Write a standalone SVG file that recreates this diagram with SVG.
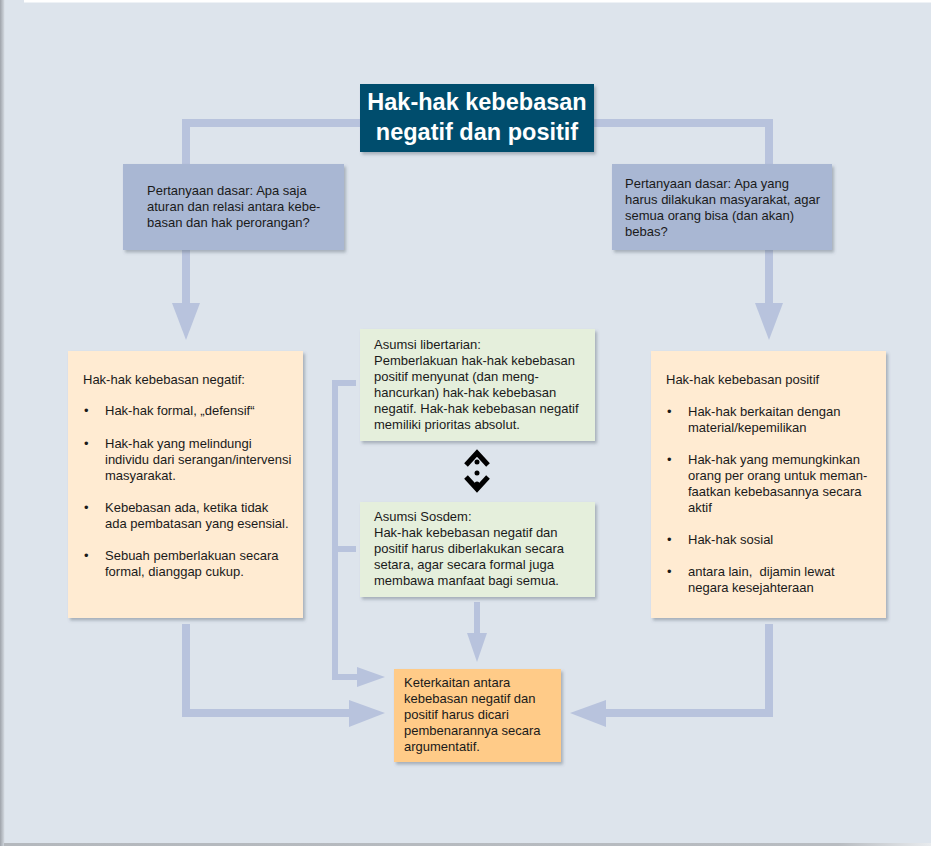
<svg xmlns="http://www.w3.org/2000/svg" width="931" height="846" viewBox="0 0 931 846">
<defs>
<filter id="sh" x="-5%" y="-5%" width="115%" height="120%">
<feDropShadow dx="2" dy="2.5" stdDeviation="1.5" flood-color="#556070" flood-opacity="0.4"/>
</filter>
<linearGradient id="lg" x1="0" x2="1" y1="0" y2="0">
<stop offset="0" stop-color="#9ea3aa"/>
<stop offset="1" stop-color="#d5dbe2"/>
</linearGradient>
<linearGradient id="bg" x1="0" x2="1" y1="0" y2="0">
<stop offset="0" stop-color="#b4b8bd"/>
<stop offset="0.9" stop-color="#b8bcc1"/>
<stop offset="1" stop-color="#e8ebee"/>
</linearGradient>
</defs>
<style>
.t{font-family:"Liberation Sans",Arial,sans-serif;font-size:13px;fill:#1a1a1a}
.ttl{font-family:"Liberation Sans",Arial,sans-serif;font-size:23.5px;font-weight:bold;fill:#ffffff}
.ln{fill:none;stroke:#b8c3dd;stroke-width:8}
.lt{fill:none;stroke:#b8c3dd;stroke-width:6}
.ah{fill:#b8c3dd}
.blue{fill:#a9b7d3}
.cream{fill:#ffebd2}
.green{fill:#e5efdc}
.orange{fill:#ffcb88}
</style>
<rect x="0" y="0" width="931" height="846" fill="#dde4ec"/>
<rect x="24" y="0" width="907" height="2.5" fill="#ffffff"/>
<rect x="0" y="0" width="4.5" height="846" fill="url(#lg)"/>
<rect x="4" y="843" width="927" height="3" fill="url(#bg)"/>

<g id="connectors">
<polyline class="ln" points="186,304 186,123 769,123 769,304"/>
<polygon class="ah" points="172,303 200,303 186,340"/>
<polygon class="ah" points="755,303 783,303 769,340"/>
<polyline class="ln" points="186,624 186,713 352,713"/>
<polygon class="ah" points="349,700 349,727 385,713"/>
<polyline class="ln" points="769,624 769,713 603,713"/>
<polygon class="ah" points="606,700 606,727 570,713"/>
<polyline class="lt" points="356,383 335,383 335,677 360,677"/>
<line class="lt" x1="335" y1="549" x2="356" y2="549"/>
<polygon class="ah" points="357,667 357,687 385,677"/>
<line class="lt" x1="477" y1="602" x2="477" y2="636"/>
<polygon class="ah" points="467,633 487,633 477,662"/>
</g>

<g id="title">
<rect x="360" y="84" width="234" height="68" fill="#004e6d" filter="url(#sh)"/>
<text class="ttl" x="477" y="110" text-anchor="middle">Hak-hak kebebasan</text>
<text class="ttl" x="477" y="140" text-anchor="middle">negatif dan positif</text>
</g>

<g id="q-left">
<rect class="blue" x="123" y="164" width="221" height="86" filter="url(#sh)"/>
<text class="t" x="147" y="195">Pertanyaan dasar: Apa saja</text>
<text class="t" x="147" y="211">aturan dan relasi antara kebe-</text>
<text class="t" x="147" y="227">basan dan hak perorangan?</text>
</g>

<g id="q-right">
<rect class="blue" x="612" y="164" width="220" height="86" filter="url(#sh)"/>
<text class="t" x="625" y="188">Pertanyaan dasar: Apa yang</text>
<text class="t" x="625" y="204">harus dilakukan masyarakat, agar</text>
<text class="t" x="625" y="220">semua orang bisa (dan akan)</text>
<text class="t" x="625" y="236">bebas?</text>
</g>

<g id="negatif">
<rect class="cream" x="68" y="351" width="235" height="267" filter="url(#sh)"/>
<text class="t" x="83" y="384">Hak-hak kebebasan negatif:</text>
<text class="t" x="84" y="415">•</text>
<text class="t" x="105" y="415">Hak-hak formal, „defensif“</text>
<text class="t" x="84" y="448">•</text>
<text class="t" x="105" y="448">Hak-hak yang melindungi</text>
<text class="t" x="105" y="464">individu dari serangan/intervensi</text>
<text class="t" x="105" y="480">masyarakat.</text>
<text class="t" x="84" y="512">•</text>
<text class="t" x="105" y="512">Kebebasan ada, ketika tidak</text>
<text class="t" x="105" y="528">ada pembatasan yang esensial.</text>
<text class="t" x="84" y="560">•</text>
<text class="t" x="105" y="560">Sebuah pemberlakuan secara</text>
<text class="t" x="105" y="576">formal, dianggap cukup.</text>
</g>

<g id="positif">
<rect class="cream" x="651" y="351" width="235" height="267" filter="url(#sh)"/>
<text class="t" x="666" y="384">Hak-hak kebebasan positif</text>
<text class="t" x="667" y="416">•</text>
<text class="t" x="688" y="416">Hak-hak berkaitan dengan</text>
<text class="t" x="688" y="432">material/kepemilikan</text>
<text class="t" x="667" y="464">•</text>
<text class="t" x="688" y="464">Hak-hak yang memungkinkan</text>
<text class="t" x="688" y="480">orang per orang untuk meman-</text>
<text class="t" x="688" y="496">faatkan kebebasannya secara</text>
<text class="t" x="688" y="512">aktif</text>
<text class="t" x="667" y="544">•</text>
<text class="t" x="688" y="544">Hak-hak sosial</text>
<text class="t" x="667" y="576">•</text>
<text class="t" x="688" y="576" xml:space="preserve" style="white-space:pre">antara lain,  dijamin lewat</text>
<text class="t" x="688" y="592">negara kesejahteraan</text>
</g>

<g id="libertarian">
<rect class="green" x="360" y="329" width="235" height="112" filter="url(#sh)"/>
<text class="t" x="374" y="349">Asumsi libertarian:</text>
<text class="t" x="374" y="365">Pemberlakuan hak-hak kebebasan</text>
<text class="t" x="374" y="381">positif menyunat (dan meng-</text>
<text class="t" x="374" y="397">hancurkan) hak-hak kebebasan</text>
<text class="t" x="374" y="413">negatif. Hak-hak kebebasan negatif</text>
<text class="t" x="374" y="429">memiliki prioritas absolut.</text>
</g>

<g id="versus">
<polyline points="466,465 477,453 488,465" fill="none" stroke="#000" stroke-width="5"/>
<polyline points="466,477 477,489 488,477" fill="none" stroke="#000" stroke-width="5"/>
<circle cx="477" cy="462" r="2.5" fill="#000"/>
<circle cx="477" cy="473" r="2.5" fill="#000"/>
<circle cx="477" cy="484" r="2.5" fill="#000"/>
</g>

<g id="sosdem">
<rect class="green" x="360" y="502" width="235" height="95" filter="url(#sh)"/>
<text class="t" x="374" y="521">Asumsi Sosdem:</text>
<text class="t" x="374" y="537">Hak-hak kebebasan negatif dan</text>
<text class="t" x="374" y="553">positif harus diberlakukan secara</text>
<text class="t" x="374" y="569">setara, agar secara formal juga</text>
<text class="t" x="374" y="585">membawa manfaat bagi semua.</text>
</g>

<g id="keterkaitan">
<rect class="orange" x="394" y="669" width="167" height="93" filter="url(#sh)"/>
<text class="t" x="404" y="687">Keterkaitan antara</text>
<text class="t" x="404" y="703">kebebasan negatif dan</text>
<text class="t" x="404" y="719">positif harus dicari</text>
<text class="t" x="404" y="735">pembenarannya secara</text>
<text class="t" x="404" y="751">argumentatif.</text>
</g>
</svg>
